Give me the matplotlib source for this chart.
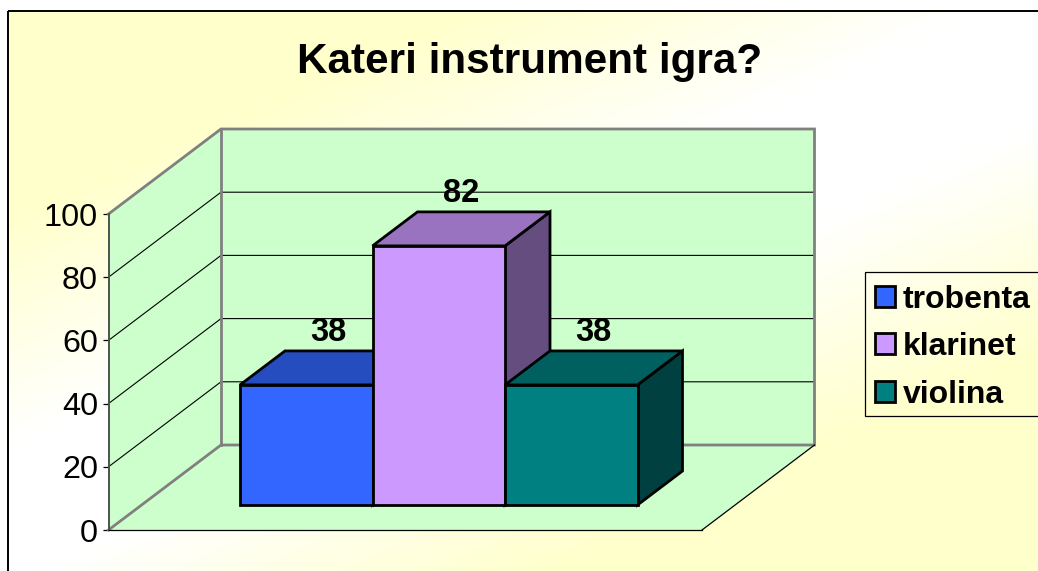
import numpy as np
import matplotlib
matplotlib.use("Agg")
import matplotlib.pyplot as plt
from matplotlib.patches import Polygon, Patch, Rectangle
from matplotlib.colors import to_rgb

title = "Kateri instrument igra?"
categories = ["trobenta", "klarinet", "violina"]
values = [38, 82, 38]
colors = ["#3366FF", "#CC99FF", "#008080"]
yticks = [0, 20, 40, 60, 80, 100]

W, H = 1038, 571
plt.rcParams["font.family"] = ["Liberation Sans", "DejaVu Sans"]
fig = plt.figure(figsize=(W / 100, H / 100), dpi=100, facecolor="white")

# page background with diagonal gradient (yellow - white - yellow)
bg = fig.add_axes([0, 0, 1, 1], zorder=0)
bg.set_axis_off()
xx, yy = np.meshgrid(np.linspace(0, W, 260), np.linspace(0, H, 143))
d = np.abs(0.45 * xx + yy - 520)
t = np.clip((d - 70) / 230, 0, 1)
img = np.dstack([np.ones_like(t), np.ones_like(t), 1 - 0.2 * t])
bx0, by0 = 7.5, 10.5
bg.imshow(img, extent=(0, W, H, 0), aspect="auto", interpolation="bilinear", zorder=0)
bg.add_patch(Rectangle((0, 0), W, by0, fc="white", ec="none", zorder=1))
bg.add_patch(Rectangle((0, 0), bx0, H, fc="white", ec="none", zorder=1))
bg.set_xlim(0, W)
bg.set_ylim(H, 0)
bg.plot([bx0, bx0], [H, by0], color="black", lw=1.4, zorder=2, solid_capstyle="butt")
bg.plot([bx0, W], [by0, by0], color="black", lw=1.4, zorder=2, solid_capstyle="butt")
# legend box frame (runs off the right edge of the picture)
bg.add_patch(Rectangle((864.5, 271.5), 180, 144, fc="none", ec="black", lw=0.9, zorder=2))

# main axes: front plane of the 3D box
L, R, B, T = 108.5, 702, 530, 214
ax = fig.add_axes([L / W, 1 - B / H, (R - L) / W, (B - T) / H], zorder=1)
ax.patch.set_alpha(0)
unit_x = 132.5                      # pixels per category
x0 = (L - 240) / unit_x
ax.set_xlim(x0, x0 + (R - L) / unit_x)
ax.set_ylim(0, 100)
px_y = 100 / (B - T)
wall_dx, wall_dy = 112.5 / unit_x, 85 * px_y
bar_dx, bar_dy = 45 / unit_x, 34 * px_y
base = 25 * px_y
xa, xb = ax.get_xlim()

wall = "#CCFFCC"
gray = "#808080"
lwg = 2.0
# side wall, back wall and floor
ax.add_patch(Polygon([(xa, 0), (xa, 100), (xa + wall_dx, 100 + wall_dy), (xa + wall_dx, wall_dy)],
                     fc=wall, ec="none", clip_on=False, zorder=1))
ax.add_patch(Polygon([(xa + wall_dx, wall_dy), (xa + wall_dx, 100 + wall_dy),
                      (xb + wall_dx, 100 + wall_dy), (xb + wall_dx, wall_dy)],
                     fc=wall, ec="none", clip_on=False, zorder=1))
ax.add_patch(Polygon([(xa, 0), (xb, 0), (xb + wall_dx, wall_dy), (xa + wall_dx, wall_dy)],
                     fc=wall, ec="none", clip_on=False, zorder=1))
# gridlines
for v in yticks[1:-1]:
    ax.plot([xa, xa + wall_dx, xb + wall_dx], [v, v + wall_dy, v + wall_dy],
            color="black", lw=0.8, clip_on=False, zorder=2)
# grey frame
ax.plot([xa, xa + wall_dx, xb + wall_dx, xb + wall_dx, xa + wall_dx, xa],
        [100, 100 + wall_dy, 100 + wall_dy, wall_dy, wall_dy, 0],
        color=gray, lw=lwg, clip_on=False, zorder=3, solid_joinstyle="miter")
ax.plot([xa + wall_dx, xa + wall_dx], [wall_dy, 100 + wall_dy],
        color=gray, lw=lwg, clip_on=False, zorder=3)
ax.plot([xb, xb + wall_dx], [0, wall_dy], color="black", lw=0.9, clip_on=False, zorder=3)

# bars
def shade(c, f):
    return tuple(f * p for p in to_rgb(c))

for i, (v, c, name) in enumerate(zip(values, colors, categories)):
    z = 5 + i
    top = base + v
    kw = dict(ec="black", lw=2.0, joinstyle="miter", clip_on=False, zorder=z)
    ax.add_patch(Polygon([(i + 1, base), (i + 1 + bar_dx, base + bar_dy),
                          (i + 1 + bar_dx, top + bar_dy), (i + 1, top)], fc=shade(c, 0.5), **kw))
    ax.add_patch(Polygon([(i, top), (i + 1, top), (i + 1 + bar_dx, top + bar_dy),
                          (i + bar_dx, top + bar_dy)], fc=shade(c, 0.75), **kw))
    ax.add_patch(Polygon([(i, base), (i + 1, base), (i + 1, top), (i, top)], fc=c, **kw))
    ax.text(i + 0.5 + bar_dx / 2, top + bar_dy + 18 * px_y, str(v), ha="center", va="center",
            fontsize=23.5, fontweight="bold", color="black", zorder=10, clip_on=False)

# real axis
ax.set_yticks(yticks)
ax.set_xticks([])
ax.tick_params(axis="y", length=4.5, width=0.9, color="black", labelsize=23.3, pad=3)
for s in ("top", "right"):
    ax.spines[s].set_visible(False)
ax.spines["left"].set_color("#505050")
ax.spines["left"].set_linewidth(1.4)
ax.spines["left"].set_zorder(4)
ax.spines["bottom"].set_color("black")
ax.spines["bottom"].set_linewidth(0.9)
ax.spines["bottom"].set_zorder(4)

fig.text(530 / W, 1 - 62 / H, title, ha="center", va="center", fontsize=30.4,
         fontweight="bold", color="black", zorder=5)

handles = [Patch(fc=c, ec="black", lw=2.0, joinstyle="miter") for c in colors]
leg = fig.legend(handles, categories, loc="upper left",
                 bbox_to_anchor=(865 / W, 1 - 275 / H), bbox_transform=fig.transFigure,
                 prop={"size": 23, "weight": "bold"}, frameon=False,
                 handlelength=0.63, handleheight=0.63, handletextpad=0.25,
                 labelspacing=0.55, borderpad=0.3, borderaxespad=0)
leg.set_zorder(6)

fig.savefig("out.png", dpi=100, facecolor="white")
